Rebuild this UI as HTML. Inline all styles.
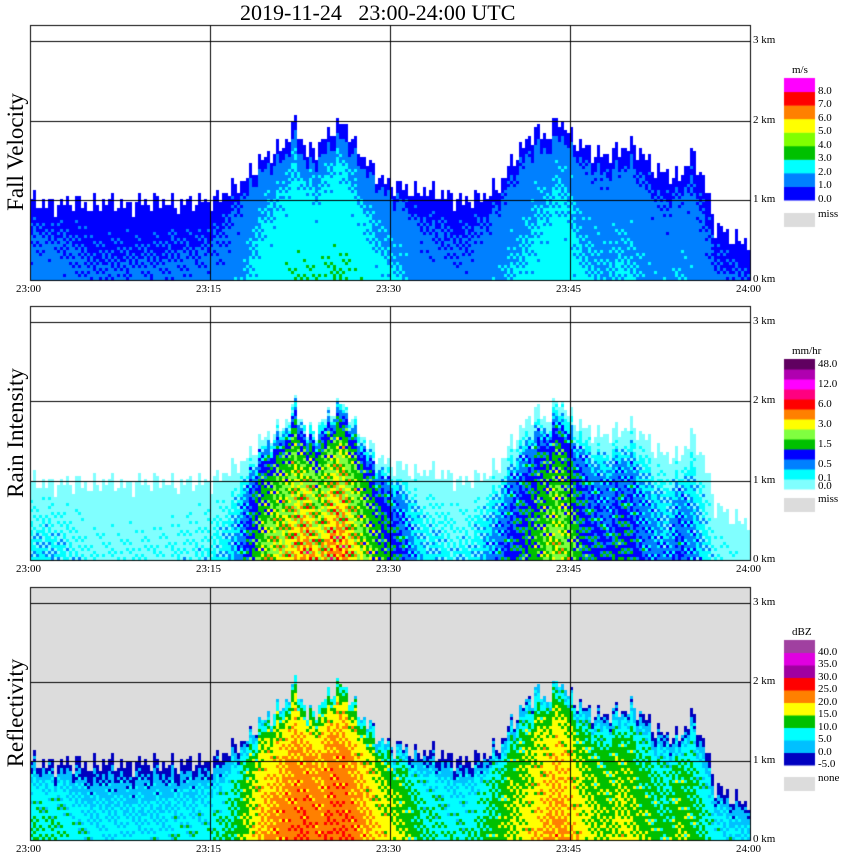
<!DOCTYPE html>
<html><head><meta charset="utf-8">
<style>
body{margin:0;background:#fff;width:850px;height:868px;position:relative;overflow:hidden;font-family:"Liberation Serif",serif}
canvas{position:absolute;left:0;top:0}
.t{position:absolute;font-size:11px;color:#000;white-space:nowrap;line-height:11px}
.ttl{position:absolute;font-size:22px;white-space:nowrap}
.yl{position:absolute;font-size:23px;white-space:nowrap;transform:translate(-50%,-50%) rotate(-90deg)}
</style></head><body>
<div class="ttl" style="left:240px;top:0px">2019-11-24&nbsp;&nbsp;&nbsp;23:00-24:00 UTC</div>
<canvas id="c" width="850" height="868"></canvas>
<div id="labels"></div>
<script>
// per-minute echo top height (km), minutes 0..60
const echoTop=[1.0,1.0,0.95,1.0,1.0,0.95,1.0,1.0,0.95,1.0,1.0,1.0,0.95,1.0,1.0,1.0,1.1,1.2,1.3,1.5,1.6,1.7,2.0,1.6,1.7,1.9,2.0,1.7,1.5,1.3,1.2,1.2,1.1,1.15,1.1,1.05,1.0,1.05,1.1,1.2,1.5,1.7,1.9,1.8,2.05,1.8,1.7,1.6,1.6,1.65,1.7,1.6,1.4,1.35,1.3,1.6,1.3,0.7,0.6,0.5,0.5];
// per-minute near-surface reflectivity (dBZ)
const coreDbz=[10,10,10,9,8,7,7,7,7,7,7,7,8,8,8,9,10,12,16,20,22,23,24,25,23,25,25,23,21,19,17,15,12,10,10,9,9,10,12,14,16,17,19,21,22,20,17,16,15,17,16,14,13,12,15,13,11,8,7,6,6];
const timeLabels=["23:00","23:15","23:30","23:45","24:00"];
const kmLabels=["0 km","1 km","2 km","3 km"];
const fvColors=["#0000ff","#0080ff","#00ffff","#00c000","#80ff00","#ffff00","#ff8000","#ff0000","#ff00ff"];
const fvTicks=["0.0","1.0","2.0","3.0","4.0","5.0","6.0","7.0","8.0"];
const rrColors=["#80ffff","#00ffff","#0080ff","#0000ff","#00c000","#80ff40","#ffff00","#ff8000","#ff0000","#ff0080","#ff00ff","#b000b0","#600060","#000000"];
const rrTicks=["0.0","0.1","0.5","1.5","3.0","6.0","12.0","48.0"];
const zColors=["#0000c0","#00c0ff","#00ffff","#00c000","#ffff00","#ff8000","#ff0000","#a000a0","#e000e0","#a040a0"];
const zTicks=["-5.0","0.0","5.0","10.0","15.0","20.0","25.0","30.0","35.0","40.0"];

const panels=[{top:25,bot:280,name:"Fall Velocity",kind:"fv",yc:152},{top:306,bot:560,name:"Rain Intensity",kind:"rr",yc:433},{top:587,bot:840,name:"Reflectivity",kind:"z",yc:713}];
const X0=30,X1=750;
const xS=m=>X0+(X1-X0)*m/60;
const ctx=document.getElementById('c').getContext('2d');
const L=document.getElementById('labels');
function lab(txt,x,y,name,cls){const d=document.createElement('div');d.className=cls||'t';d.textContent=txt;d.style.left=x+'px';d.style.top=y+'px';


L.appendChild(d);return d;}
function interp(arr,m){const i=Math.floor(m),f=m-i;const a=arr[Math.min(i,60)],b=arr[Math.min(i+1,60)];return a+(b-a)*f;}
function topAt(m,x){return interp(echoTop,m)+0.09*Math.sin(x*1.37)+0.06*Math.sin(x*0.41+1);}
function dbzAt(m,h,x,y){const top=topAt(m,x);if(h>top)return null;const c=interp(coreDbz,m);const r=h/top;
return c-5*r-14*Math.pow(r,8)+4*Math.sin(x*0.9+y*0.13)*Math.cos(y*0.7-x*0.05);}
function colFV(d,r){let v=Math.max(0,(0.5+d/10)*(1-0.25*r));if(r>0.9)v=Math.min(v,0.9);return fvColors[Math.min(8,Math.floor(v))];}
function colRR(d){const th=[8,11,14,17,20,22,24,26,28,30,33];let i=0;while(i<th.length&&d>=th[i])i++;return rrColors[i];}
function colZ(d){let i=Math.floor((d+5)/5);i=Math.max(0,Math.min(9,i));return zColors[i];}
panels.forEach(p=>{
  const kmPx=(p.bot-p.top)/3.2;
  if(p.kind==='z'){ctx.fillStyle='#dcdcdc';ctx.fillRect(X0,p.top,X1-X0,p.bot-p.top);}
  for(let x=X0;x<X1;x+=3){const m=(x-X0)/12;
    const top=topAt(m,x);
    for(let y=p.bot-3;y>=p.top;y-=3){const h=(p.bot-y)/kmPx;const d=dbzAt(m,h,x,y);if(d===null)continue;
      ctx.fillStyle=p.kind==='fv'?colFV(d,h/top):p.kind==='rr'?colRR(d):colZ(d);
      ctx.fillRect(x,y,3,3);}}
  ctx.strokeStyle='#000';ctx.lineWidth=1;
  for(let k=1;k<=3;k++){const y=Math.round(p.bot-k*kmPx)+0.5;ctx.beginPath();ctx.moveTo(X0,y);ctx.lineTo(X1,y);ctx.stroke();}
  for(let k=1;k<=3;k++){const x=Math.round(xS(k*15))+0.5;ctx.beginPath();ctx.moveTo(x,p.top);ctx.lineTo(x,p.bot);ctx.stroke();}
  ctx.strokeRect(X0+0.5,p.top+0.5,X1-X0,p.bot-p.top);
  kmLabels.forEach((t,k)=>lab(t,753,p.bot-k*kmPx-6,'y-tick-'+k+'km'));
  timeLabels.forEach((t,k)=>lab(t,xS(k*15)-14,p.bot+4,'x-tick-'+t.replace(':','')));
  lab(p.name,16,p.yc,p.kind+'-axis-title','yl');
});
// legends
function legend(colors,ticks,x0,y0,y1,unit,missTxt,missY,kind){
  const n=colors.length,h=(y1-y0)/n;
  for(let i=0;i<n;i++){ctx.fillStyle=colors[i];ctx.fillRect(x0,y1-(i+1)*h,31,h+0.5);}
  lab(unit,x0+8,y0-13,kind+'-legend-unit');
  ticks.forEach((t,i)=>lab(t,x0+34,y1-i*h-6,kind+'-legend-tick'));
  ctx.fillStyle='#dcdcdc';ctx.fillRect(x0,missY,31,14);
  lab(missTxt,x0+34,missY-4,kind+'-legend-missing');
}
legend(fvColors,fvTicks,784,78,200,'m/s','miss',213,'fv');
legend(rrColors.slice(0,13),[],784,359,489,'mm/hr','miss',498,'rr');
const rrTickY=[487,479,465,445,425,405,385,365];
rrTicks.forEach((t,i)=>lab(t,818,rrTickY[i]-6,'rr-legend-tick'));
legend(zColors,zTicks,784,640,765,'dBZ','none',777,'z');
</script>
</body></html>
